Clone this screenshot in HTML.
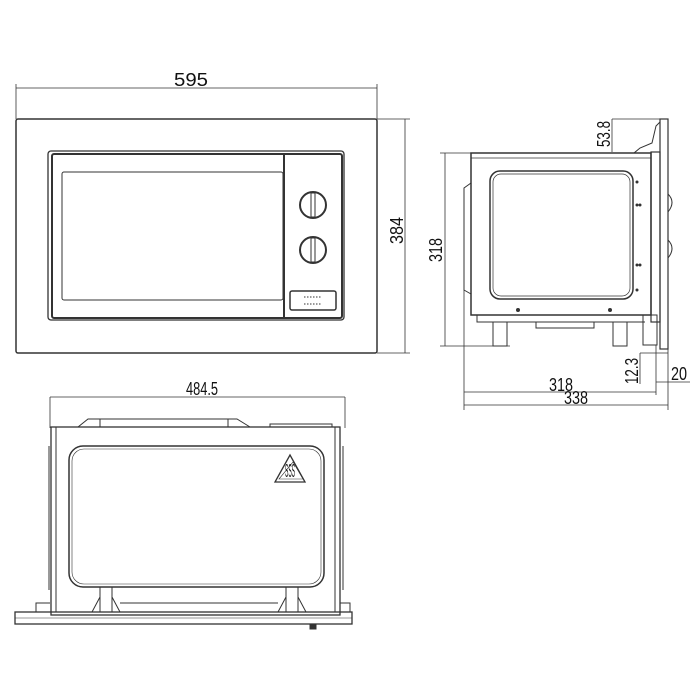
<!DOCTYPE html>
<html><head><style>html,body{margin:0;padding:0;background:#fff}svg{display:block}text{font-family:"Liberation Sans",sans-serif;font-size:18px;fill:#111}</style></head><body>
<svg width="700" height="700" viewBox="0 0 700 700" xmlns="http://www.w3.org/2000/svg" fill="none" stroke="#333" stroke-width="1">
<!-- FRONT VIEW -->
<line x1="16" y1="88" x2="377" y2="88" stroke-width="0.8"/>
<line x1="16" y1="84" x2="16" y2="119" stroke-width="0.8"/>
<line x1="377" y1="84" x2="377" y2="119" stroke-width="0.8"/>
<text x="174" y="86" textLength="34" lengthAdjust="spacingAndGlyphs" stroke="none">595</text>
<rect x="16" y="119" width="361" height="234" rx="2" stroke-width="1.5"/>
<line x1="377" y1="119" x2="410" y2="119" stroke-width="0.8"/>
<line x1="377" y1="353" x2="410" y2="353" stroke-width="0.8"/>
<line x1="405" y1="119" x2="405" y2="353" stroke-width="0.8"/>
<text transform="translate(403,244) rotate(-90)" textLength="27" lengthAdjust="spacingAndGlyphs" stroke="none">384</text>
<rect x="48" y="151" width="296" height="169" rx="3" stroke-width="1.3"/>
<rect x="52" y="154" width="290" height="164" rx="2" stroke-width="2"/>
<line x1="284" y1="155" x2="284" y2="318" stroke-width="2"/>
<rect x="62" y="172" width="221" height="128" rx="2"/>
<circle cx="313" cy="205" r="13" stroke-width="2"/>
<rect x="311" y="193" width="4" height="24" stroke-width="1"/>
<circle cx="313" cy="250" r="13" stroke-width="2"/>
<rect x="311" y="238" width="4" height="24" stroke-width="1"/>
<rect x="290" y="291" width="46" height="19" rx="2" stroke-width="1.5"/>
<line x1="304" y1="297" x2="322" y2="297" stroke-dasharray="1.5,1.5"/>
<line x1="304" y1="304" x2="322" y2="304" stroke-dasharray="1.5,1.5"/>

<!-- SIDE VIEW -->
<line x1="440" y1="153" x2="471" y2="153" stroke-width="0.8"/>
<line x1="440" y1="346" x2="510" y2="346" stroke-width="0.8"/>
<line x1="445" y1="153" x2="445" y2="346" stroke-width="0.8"/>
<text transform="translate(442,262) rotate(-90)" textLength="24" lengthAdjust="spacingAndGlyphs" stroke="none">318</text>
<line x1="612" y1="119" x2="668" y2="119" stroke-width="0.8"/>
<line x1="612" y1="119" x2="612" y2="152" stroke-width="0.8"/>
<text transform="translate(610,147) rotate(-90)" textLength="26" lengthAdjust="spacingAndGlyphs" stroke="none">53.8</text>
<rect x="471" y="153" width="180" height="162" stroke-width="1.5"/>
<line x1="471" y1="158" x2="651" y2="158" stroke-width="0.7"/>
<path d="M471 183 L464 188 L464 290 L471 294"/>
<rect x="490" y="171" width="143" height="128" rx="10" stroke-width="1.5"/>
<rect x="493" y="174" width="137" height="122" rx="8" stroke-width="0.7"/>
<g fill="#333" stroke="none">
<circle cx="637" cy="182" r="1.5"/><circle cx="637" cy="205" r="1.5"/><circle cx="640" cy="205" r="1.5"/>
<circle cx="637" cy="265" r="1.5"/><circle cx="640" cy="265" r="1.5"/><circle cx="637" cy="290" r="1.5"/>
<circle cx="518" cy="310" r="2"/><circle cx="610" cy="310" r="2"/>
</g>
<rect x="651" y="152" width="9" height="170" stroke-width="1.2"/>
<path d="M634 153 L640 148 L652 143 L656 126 L660 122"/>
<rect x="660" y="119" width="8" height="230" stroke-width="1.2"/>
<path d="M668 194 Q676 202 668 212"/><path d="M668 240 Q676 248 668 258"/>
<rect x="643" y="315" width="14" height="30" stroke-width="1"/>
<path d="M477 315 L477 322 L645 322"/>
<rect x="493" y="322" width="14" height="24"/>
<rect x="613" y="322" width="14" height="24"/>
<rect x="536" y="322" width="58" height="6"/>
<line x1="464" y1="290" x2="464" y2="410" stroke-width="0.8"/>
<line x1="668" y1="349" x2="668" y2="410" stroke-width="0.8"/>
<line x1="656" y1="345" x2="656" y2="395" stroke-width="0.8"/>
<line x1="464" y1="392" x2="656" y2="392" stroke-width="0.8"/>
<line x1="464" y1="405" x2="668" y2="405" stroke-width="0.8"/>
<text x="549" y="391" textLength="24" lengthAdjust="spacingAndGlyphs" stroke="none">318</text>
<text x="564" y="404" textLength="24" lengthAdjust="spacingAndGlyphs" stroke="none">338</text>
<line x1="640" y1="353" x2="668" y2="353" stroke-width="0.8"/>
<line x1="640" y1="353" x2="640" y2="384" stroke-width="0.8"/>
<text transform="translate(638,384) rotate(-90)" textLength="26" lengthAdjust="spacingAndGlyphs" stroke="none">12.3</text>
<line x1="656" y1="382" x2="690" y2="382" stroke-width="0.8"/>
<text x="671" y="380" textLength="16" lengthAdjust="spacingAndGlyphs" stroke="none">20</text>

<!-- TOP VIEW -->
<line x1="50" y1="397" x2="345" y2="397" stroke-width="0.8"/>
<line x1="50" y1="397" x2="50" y2="428" stroke-width="0.8"/>
<line x1="345" y1="397" x2="345" y2="428" stroke-width="0.8"/>
<text x="186" y="395" textLength="32" lengthAdjust="spacingAndGlyphs" stroke="none">484.5</text>
<path d="M78 427 L88 419 L237 419 L250 427"/>
<line x1="100" y1="419" x2="100" y2="427"/><line x1="228" y1="419" x2="228" y2="427"/>
<path d="M270 427 L270 424 L332 424 L332 427"/>
<rect x="51" y="427" width="289" height="188" stroke-width="1.3"/>
<line x1="56" y1="427" x2="56" y2="612"/>
<line x1="335" y1="427" x2="335" y2="612"/>
<line x1="49" y1="446" x2="49" y2="590"/>
<line x1="343" y1="446" x2="343" y2="590"/>
<rect x="69" y="446" width="255" height="141" rx="14" stroke-width="1.5"/>
<rect x="72" y="449" width="249" height="135" rx="12" stroke-width="0.6"/>
<path d="M290 455 L305 482 L275 482 Z" stroke-width="1.3"/>
<path d="M293 462 L303 479 L279 479 Z" stroke-width="0.6"/>
<text x="285" y="477" font-size="8" textLength="10" lengthAdjust="spacingAndGlyphs" stroke="none">SSS</text>
<path d="M100 587 L100 612 M112 587 L112 612 M286 587 L286 612 M298 587 L298 612"/>
<path d="M92 612 L100 597 M120 612 L112 597 M278 612 L286 597 M306 612 L298 597"/>
<path d="M36 612 L36 603 L50 603"/><path d="M340 603 L350 603 L350 612"/>
<line x1="120" y1="603" x2="278" y2="603"/>
<rect x="15" y="612" width="337" height="12" stroke-width="1.3"/>
<line x1="15" y1="618" x2="352" y2="618" stroke-width="0.5"/>
<rect x="310" y="624" width="6" height="5" fill="#333"/>
</svg>
</body></html>
